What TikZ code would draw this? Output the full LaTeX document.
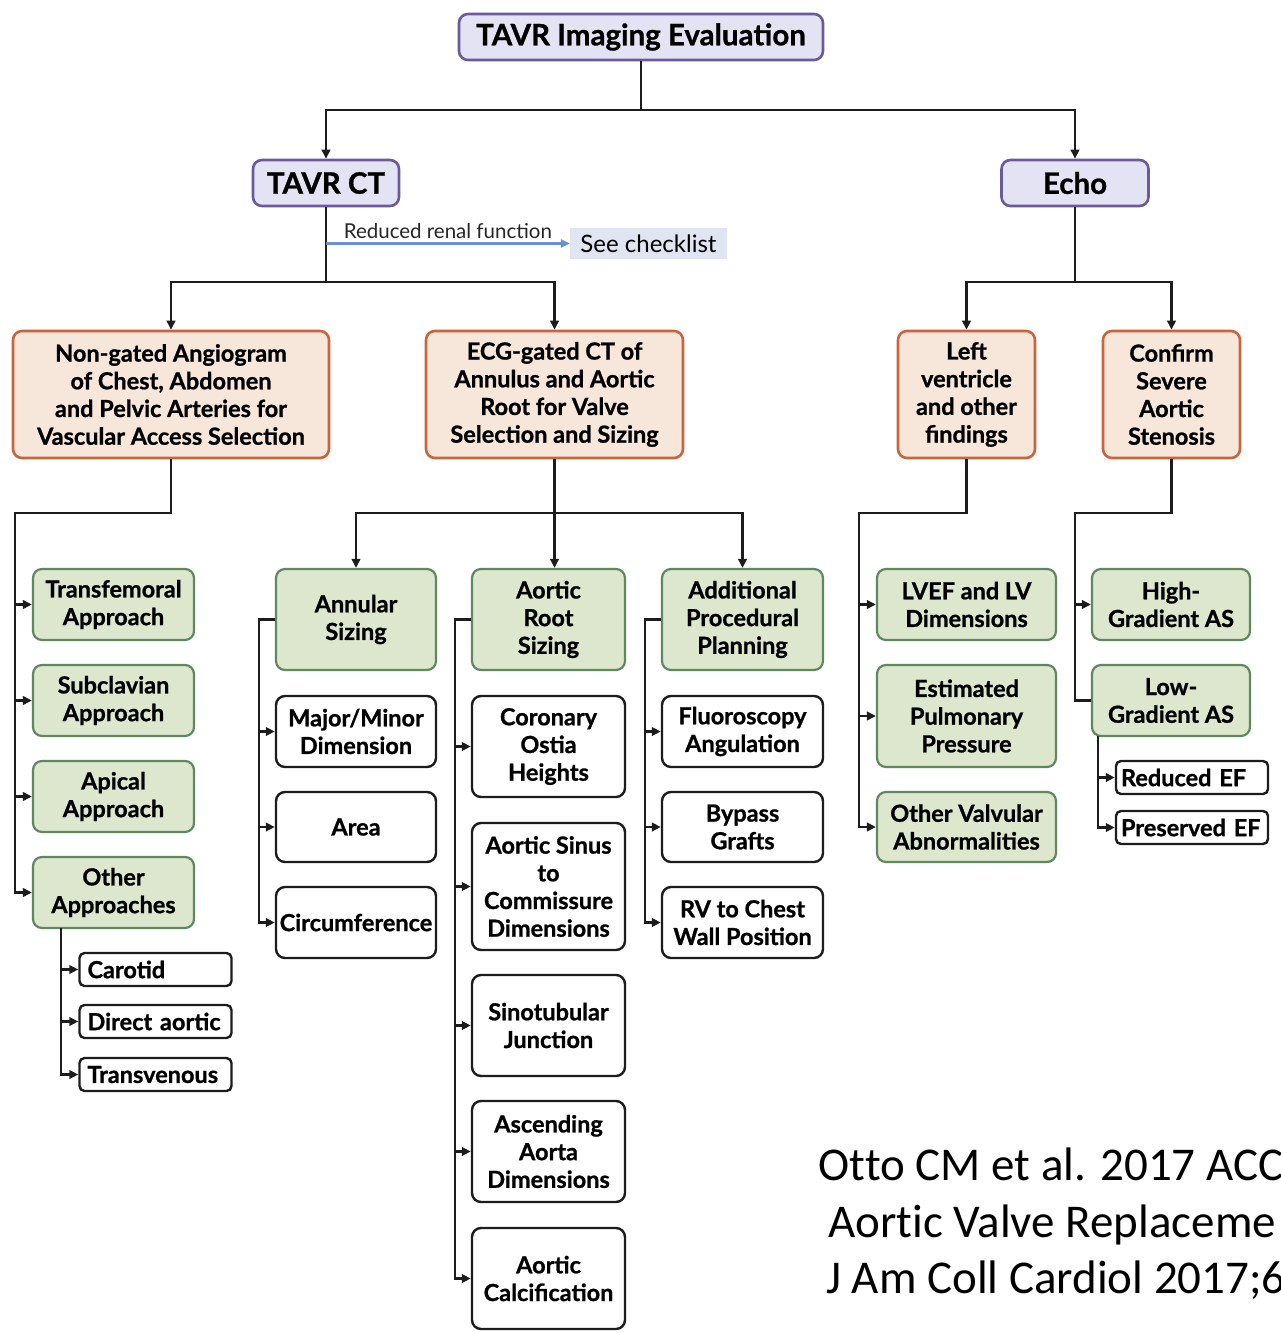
\documentclass[tikz,border=0pt]{standalone}
\usepackage{fontspec}
\setmainfont{Lato}[BoldFeatures={FakeBold=0.9}]
\newfontfamily\citefont{Carlito}[Ligatures={NoCommon}]
\usetikzlibrary{arrows.meta}
\definecolor{linec}{HTML}{1C1C1C}
\definecolor{purpfill}{HTML}{E3E3F3}
\definecolor{purpdraw}{HTML}{6A5A9C}
\definecolor{peachfill}{HTML}{F7E6DA}
\definecolor{peachdraw}{HTML}{C8653E}
\definecolor{greenfill}{HTML}{DCE7CE}
\definecolor{greendraw}{HTML}{5F8760}
\definecolor{bluec}{HTML}{6B90D2}
\definecolor{checkfill}{HTML}{E1E4F1}
\newcommand\bxfont{\fontsize{23.5}{27.7}\selectfont\bfseries}
\newcommand\hdfont{\fontsize{29.5}{32}\selectfont\bfseries}
\begin{document}
\begin{tikzpicture}[x=1pt,y=-1pt,
  line/.style={draw=linec,line width=2.6pt},
  arr/.style={line,-{Triangle[length=9pt,width=8.5pt]}},
  bluearr/.style={draw=bluec,line width=2.2pt,-{Triangle[length=9pt,width=8pt]}},
  box/.style={rounded corners=9pt,align=center,inner sep=0pt,font=\bxfont},
  purplebox/.style={box,fill=purpfill,draw=purpdraw,line width=2.6pt,font=\hdfont},
  peachbox/.style={box,fill=peachfill,draw=peachdraw,line width=2.6pt,minimum height=127pt},
  greenbox/.style={box,fill=greenfill,draw=greendraw,line width=2.2pt},
  whitebox/.style={box,fill=white,draw=linec,line width=2.4pt},
  smallbox/.style={whitebox,rounded corners=5pt,minimum height=33pt,align=left,inner xsep=8pt,text width=136pt},
  cite/.style={anchor=base west,inner sep=0pt,font=\citefont\fontsize{47}{57}\selectfont}]
\useasboundingbox (0,0) rectangle (1281,1333);
\fill[white] (0,0) rectangle (1281,1333);

% top level
\node[purplebox,minimum width=364pt,minimum height=46pt] (title) at (641,37) {TAVR Imaging Evaluation};
\node[purplebox,minimum width=146pt,minimum height=46pt] (tavrct) at (326,183) {TAVR CT};
\node[purplebox,minimum width=147pt,minimum height=46pt] (echo) at (1075,183) {Echo};
\node[fill=checkfill,inner sep=0pt,minimum width=157pt,minimum height=31pt,font=\fontsize{24}{26}\selectfont] (check) at (648.5,243.5) {See checklist};

% second level
\node[peachbox,minimum width=316pt] (ng) at (171,394.5) {Non-gated Angiogram\\of Chest, Abdomen\\and Pelvic Arteries for\\Vascular Access Selection};
\node[peachbox,minimum width=257pt] (ecg) at (554.5,394.5) {ECG-gated CT of\\Annulus and Aortic\\Root for Valve\\Selection and Sizing};
\node[peachbox,minimum width=137pt] (lv) at (966.5,394.5) {Left\\ventricle\\and other\\findings};
\node[peachbox,minimum width=137pt] (conf) at (1171.5,394.5) {Confirm\\Severe\\Aortic\\Stenosis};

% access approaches
\node[greenbox,minimum width=161pt,minimum height=71pt] (tf) at (113.5,604.5) {Transfemoral\\Approach};
\node[greenbox,minimum width=161pt,minimum height=71pt] (sc) at (113.5,700.5) {Subclavian\\Approach};
\node[greenbox,minimum width=161pt,minimum height=71pt] (ap) at (113.5,796.5) {Apical\\Approach};
\node[greenbox,minimum width=161pt,minimum height=71pt] (oa) at (113.5,892.5) {Other\\Approaches};
\node[smallbox] (car) at (155.5,969.5) {Carotid};
\node[smallbox] (dir) at (155.5,1021.5) {Direct aortic};
\node[smallbox] (tv) at (155.5,1074.5) {Transvenous};

% annular sizing
\node[greenbox,minimum width=160pt,minimum height=101pt] (ann) at (356,619.5) {Annular\\Sizing};
\node[whitebox,minimum width=160pt,minimum height=71pt] (maj) at (356,731.5) {Major/Minor\\Dimension};
\node[whitebox,minimum width=160pt,minimum height=70pt] (area) at (356,827) {Area};
\node[whitebox,minimum width=160pt,minimum height=71pt] (circ) at (356,922.5) {Circumference};

% aortic root sizing
\node[greenbox,minimum width=153pt,minimum height=101pt] (ar) at (548.5,619.5) {Aortic\\Root\\Sizing};
\node[whitebox,minimum width=153pt,minimum height=101pt] (cor) at (548.5,746.5) {Coronary\\Ostia\\Heights};
\node[whitebox,minimum width=153pt,minimum height=127pt] (sin) at (548.5,886.5) {Aortic Sinus\\to\\Commissure\\Dimensions};
\node[whitebox,minimum width=153pt,minimum height=101pt] (stj) at (548.5,1025.5) {Sinotubular\\Junction};
\node[whitebox,minimum width=153pt,minimum height=101pt] (asc) at (548.5,1151.5) {Ascending\\Aorta\\Dimensions};
\node[whitebox,minimum width=153pt,minimum height=101pt] (calc) at (548.5,1278.5) {Aortic\\Calcification};

% additional procedural planning
\node[greenbox,minimum width=161pt,minimum height=101pt] (add) at (742.5,619.5) {Additional\\Procedural\\Planning};
\node[whitebox,minimum width=161pt,minimum height=71pt] (flu) at (742.5,731.5) {Fluoroscopy\\Angulation};
\node[whitebox,minimum width=161pt,minimum height=70pt] (byp) at (742.5,827) {Bypass\\Grafts};
\node[whitebox,minimum width=161pt,minimum height=71pt] (rv) at (742.5,922.5) {RV to Chest\\Wall Position};

% echo branches
\node[greenbox,minimum width=179pt,minimum height=71pt] (lvef) at (966.5,604.5) {LVEF and LV\\Dimensions};
\node[greenbox,minimum width=179pt,minimum height=102pt] (epp) at (966.5,716) {Estimated\\Pulmonary\\Pressure};
\node[greenbox,minimum width=179pt,minimum height=70pt] (ova) at (966.5,827) {Other Valvular\\Abnormalities};
\node[greenbox,minimum width=158pt,minimum height=71pt] (high) at (1171,604.5) {High-\\Gradient AS};
\node[greenbox,minimum width=158pt,minimum height=71pt] (low) at (1171,700.5) {Low-\\Gradient AS};
\node[smallbox,text width=142pt,inner xsep=5pt] (red) at (1192,777.5) {Reduced EF};
\node[smallbox,text width=142pt,inner xsep=5pt] (pres) at (1192,827.5) {Preserved EF};

% junction coordinates
\coordinate (j1) at (641,110);
\coordinate (j2) at (326,282);
\coordinate (rr) at (326,243.5);
\coordinate (j3) at (15,513);
\coordinate (j4) at (554.5,513);
\coordinate (j5) at (1075,282);
\coordinate (j6) at (859,513);
\coordinate (j7) at (1075,513);
\coordinate (oak) at (61,928);
\coordinate (ank) at (259,619.5);
\coordinate (ark) at (455,619.5);
\coordinate (adk) at (645,619.5);
\coordinate (lok) at (1098,736);

% connectors
\draw[line] (title.south) -- (j1);
\draw[arr] (j1) -| (tavrct.north);
\draw[arr] (j1) -| (echo.north);
\draw[line] (tavrct.south) -- (j2);
\draw[arr] (j2) -| (ng.north);
\draw[arr] (j2) -| (ecg.north);
\draw[bluearr] (rr) -- (check.west) node[midway,above=0pt,font=\fontsize{20.5}{22}\selectfont,text=black!85] (rrl) {Reduced renal function};
\draw[line] (echo.south) -- (j5);
\draw[arr] (j5) -| (lv.north);
\draw[arr] (j5) -| (conf.north);

\draw[arr] (ng.south) |- (j3) |- (oa.west);
\draw[arr] (j3 |- tf.west) -- (tf.west);
\draw[arr] (j3 |- sc.west) -- (sc.west);
\draw[arr] (j3 |- ap.west) -- (ap.west);
\draw[arr] (oak) |- (tv.west);
\draw[arr] (oak |- car.west) -- (car.west);
\draw[arr] (oak |- dir.west) -- (dir.west);

\draw[line] (ecg.south) -- (j4);
\draw[arr] (j4) -- (ar.north -| j4);
\draw[arr] (j4) -| (ann.north);
\draw[arr] (j4) -| (add.north);

\draw[arr] (ann.west) -- (ank) |- (circ.west);
\draw[arr] (ank |- maj.west) -- (maj.west);
\draw[arr] (ank |- area.west) -- (area.west);

\draw[arr] (ar.west) -- (ark) |- (calc.west);
\draw[arr] (ark |- cor.west) -- (cor.west);
\draw[arr] (ark |- sin.west) -- (sin.west);
\draw[arr] (ark |- stj.west) -- (stj.west);
\draw[arr] (ark |- asc.west) -- (asc.west);

\draw[arr] (add.west) -- (adk) |- (rv.west);
\draw[arr] (adk |- flu.west) -- (flu.west);
\draw[arr] (adk |- byp.west) -- (byp.west);

\draw[arr] (lv.south) |- (j6) |- (ova.west);
\draw[arr] (j6 |- lvef.west) -- (lvef.west);
\draw[arr] (j6 |- epp.west) -- (epp.west);

\draw[line] (conf.south) |- (j7) |- (low.west);
\draw[arr] (j7 |- high.west) -- (high.west);
\draw[arr] (lok) |- (pres.west);
\draw[arr] (lok |- red.west) -- (red.west);

% citation
\begin{scope}
\clip (0,0) rectangle (1281,1333);
\node[cite] (c1) at (818,1180) {Ot\kern0pt to CM et al. 2017 ACC};
\node[cite] (c2) at (828,1237) {Aortic Valve Replaceme};
\node[cite] (c3) at (826,1293) {J Am Coll Cardiol 2017;6};
\end{scope}
\end{tikzpicture}
\end{document}
